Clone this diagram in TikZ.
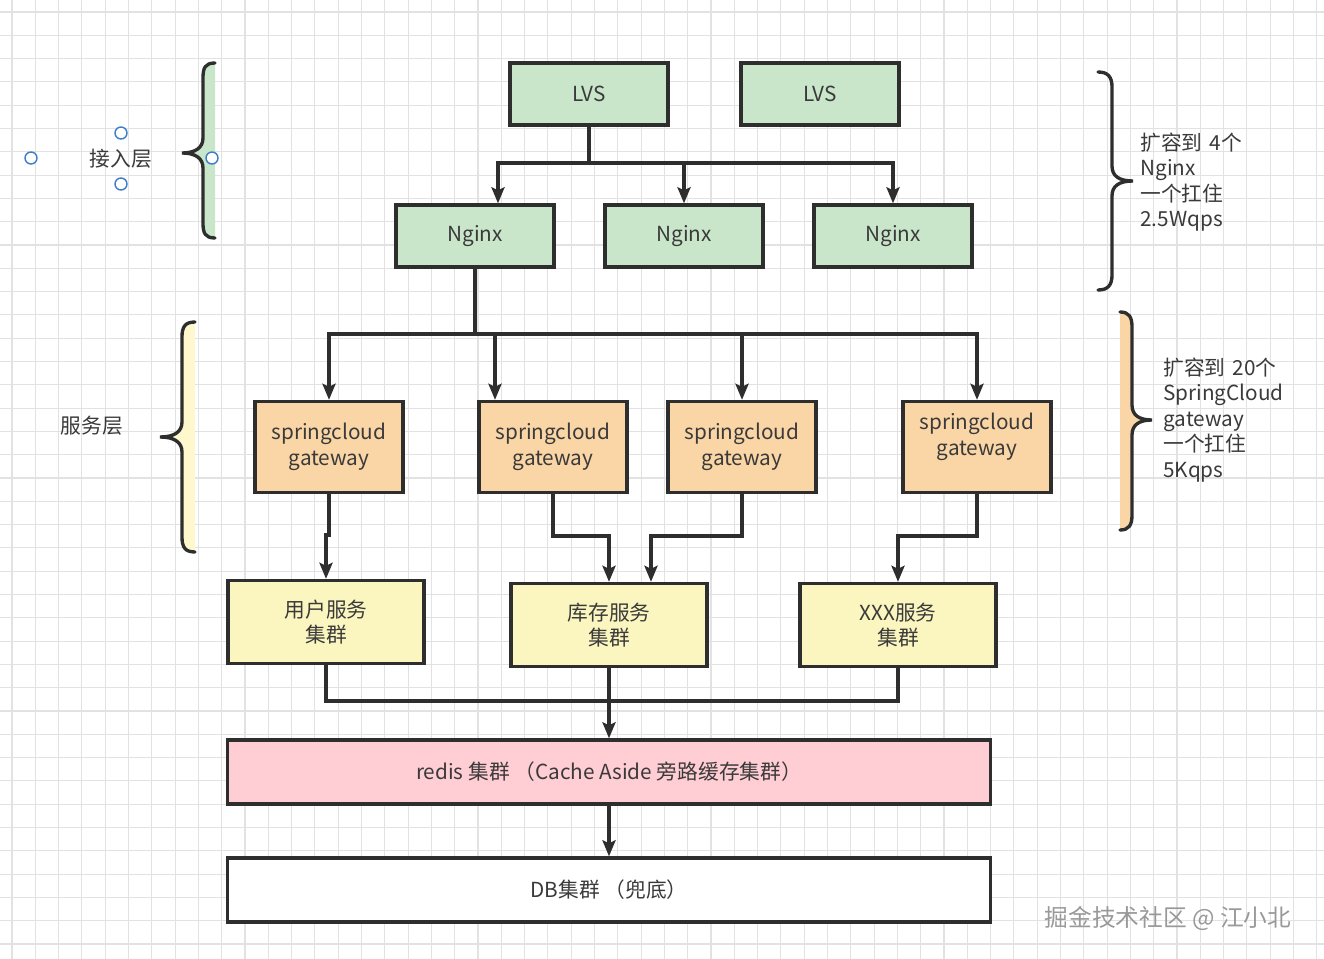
\documentclass[tikz,border=0pt]{standalone}
\usepackage{fontspec}
\setmainfont{Noto Sans CJK SC}
\usetikzlibrary{positioning,calc,arrows.meta}
\definecolor{gridgray}{HTML}{E2E2E2}
\definecolor{lvsgreen}{HTML}{C9E6CB}
\definecolor{gworange}{HTML}{FAD5A5}
\definecolor{svcyellow}{HTML}{FBF6BF}
\definecolor{paleyellow}{HTML}{FFF8CC}
\definecolor{redispink}{HTML}{FFCDD4}
\definecolor{edgegray}{HTML}{2E2E2E}
\definecolor{textgray}{HTML}{3A3A3A}
\definecolor{handleblue}{HTML}{3D7FC8}

\begin{document}
\begin{tikzpicture}[x=0.02cm,y=-0.02cm,
  font=\fontsize{11.8}{14.5}\selectfont, text=textgray,
  box/.style={draw=edgegray,line width=1.9pt,align=center,inner sep=0pt},
  lvsbox/.style={box,fill=lvsgreen,minimum width=3.16cm,minimum height=1.24cm},
  gwbox/.style={box,fill=gworange,minimum width=2.96cm,minimum height=1.82cm},
  svcbox/.style={box,fill=svcyellow,minimum width=3.92cm,minimum height=1.66cm},
  widebox/.style={box,minimum width=15.26cm,minimum height=1.28cm},
  link/.style={draw=edgegray,line width=1.9pt},
  arr/.style={link,-{Stealth[length=0.32cm,width=0.26cm,inset=0.06cm]}},
  brace/.style={draw=edgegray,line width=1.9pt,line cap=round},
  note/.style={align=left,anchor=west,inner sep=0pt},
  handle/.style={circle,draw=handleblue,fill=white,line width=0.8pt,minimum size=0.24cm,inner sep=0pt}]

\useasboundingbox (0,0) rectangle (1324,959);
\fill[white] (0,0) rectangle (1324,959);
% background grid
\foreach \g in {0,...,56}
  \draw[gridgray,line width=0.6pt] ({12+23.3*\g},0) -- ({12+23.3*\g},959);
\foreach \g in {0,...,40}
  \draw[gridgray,line width=0.6pt] (0,{12+23.3*\g}) -- (1324,{12+23.3*\g});

% access layer
\node[lvsbox] (lvs1) at (589,94) {LVS};
\node[lvsbox] (lvs2) at (820,94) {LVS};
\node[lvsbox] (ngx1) at (475,236) {Nginx};
\node[lvsbox] (ngx2) at (684,236) {Nginx};
\node[lvsbox] (ngx3) at (893,236) {Nginx};

% service layer
\node[gwbox] (gw1) at (329,447) {springcloud\\gateway};
\node[gwbox] (gw2) at (553,447) {springcloud\\gateway};
\node[gwbox] (gw3) at (742,447) {springcloud\\gateway};
\node[gwbox] (gw4) at (977,447) {springcloud\\gateway\\~};

\node[svcbox] (svc1) at (326,622) {用户服务\\集群};
\node[svcbox] (svc2) at (609,625) {库存服务\\集群};
\node[svcbox] (svc3) at (898,625) {XXX服务\\集群};

\node[widebox,fill=redispink] (redis) at (609,772) {redis 集群 （Cache Aside 旁路缓存集群）};
\node[widebox,fill=white] (db) at (609,890) {DB集群 （兜底）};

% connectors
\coordinate (lvsbus) at (589,163);
\draw[link] (lvs1.south) -- (lvsbus);
\draw[arr] (lvsbus) -| ($(ngx1.north)+(23,0)$);
\draw[arr] (lvsbus) -| (ngx2.north);
\draw[arr] (lvsbus) -| (ngx3.north);

\coordinate (ngxbus) at (475,334);
\draw[link] (ngx1.south) -- (ngxbus);
\draw[arr] (ngxbus) -| (gw1.north);
\draw[arr] (ngxbus) -| ($(gw2.north)+(-58,0)$);
\draw[arr] (ngxbus) -| (gw3.north);
\draw[arr] (ngxbus) -| (gw4.north);

\draw[arr] (gw1.south) |- ($(svc1.north)+(0,-44)$) -- (svc1.north);
\draw[arr] (gw2.south) |- ($(svc2.north)+(0,-46)$) -- (svc2.north);
\draw[arr] (gw3.south) |- ($(svc2.north)+(42,-46)$) -- ($(svc2.north)+(42,0)$);
\draw[arr] (gw4.south) |- ($(svc3.north)+(0,-46)$) -- (svc3.north);

\coordinate (svcbus) at (609,701);
\draw[link] (svc1.south) |- (svcbus) -| (svc3.south);
\draw[arr] (svc2.south) -- (redis.north);
\draw[arr] (redis.south) -- (db.north);

% braces
\fill[lvsgreen] (215,63) .. controls (205,63) and (203,68) .. (203,78) -- (203,138)
  .. controls (203,148) and (195,153) .. (182,153) .. controls (195,153) and (203,158) .. (203,168)
  -- (203,223) .. controls (203,233) and (205,238) .. (215,238) -- cycle;
\draw[brace] (215,63) .. controls (205,63) and (203,68) .. (203,78) -- (203,138)
  .. controls (203,148) and (195,153) .. (182,153) .. controls (195,153) and (203,158) .. (203,168)
  -- (203,223) .. controls (203,233) and (205,238) .. (215,238);

\fill[paleyellow] (195,322) .. controls (185,322) and (182,327) .. (182,337) -- (182,422)
  .. controls (182,432) and (174,437) .. (160,437) .. controls (174,437) and (182,442) .. (182,452)
  -- (182,537) .. controls (182,547) and (185,552) .. (195,552) -- cycle;
\draw[brace] (195,322) .. controls (185,322) and (182,327) .. (182,337) -- (182,422)
  .. controls (182,432) and (174,437) .. (160,437) .. controls (174,437) and (182,442) .. (182,452)
  -- (182,537) .. controls (182,547) and (185,552) .. (195,552);

\draw[brace] (1098,72) .. controls (1108,72) and (1112,77) .. (1112,87) -- (1112,166)
  .. controls (1112,176) and (1119,181) .. (1133,181) .. controls (1119,181) and (1112,186) .. (1112,196)
  -- (1112,275) .. controls (1112,285) and (1108,290) .. (1098,290);

\fill[gworange] (1120,312) .. controls (1129,312) and (1132,317) .. (1132,327) -- (1132,405)
  .. controls (1132,415) and (1139,420) .. (1152,420) .. controls (1139,420) and (1132,425) .. (1132,435)
  -- (1132,515) .. controls (1132,525) and (1129,530) .. (1120,530) -- cycle;
\draw[brace] (1120,312) .. controls (1129,312) and (1132,317) .. (1132,327) -- (1132,405)
  .. controls (1132,415) and (1139,420) .. (1152,420) .. controls (1139,420) and (1132,425) .. (1132,435)
  -- (1132,515) .. controls (1132,525) and (1129,530) .. (1120,530);

% labels
\node (acclabel) at (121,159) {接入层};
\node (svclabel) at (92,426) {服务层};
\node[handle] (h1) at (31,158) {};
\node[handle] (h2) at (121,133) {};
\node[handle] (h3) at (121,184) {};
\node[handle] (h4) at (212,158) {};

\node[note] (ngxnote) at (1140,182) {扩容到\hspace{0.35em}4个\\Nginx\\一个扛住\\2.5Wqps};
\node[note] (gwnote) at (1163,420) {扩容到\hspace{0.35em}20个\\SpringCloud\\gateway\\一个扛住\\5Kqps};

\node[text=gray!80,font=\fontsize{13.5}{16}\selectfont] (mark) at (1168,918) {掘金技术社区 @ 江小北};
\end{tikzpicture}
\end{document}
